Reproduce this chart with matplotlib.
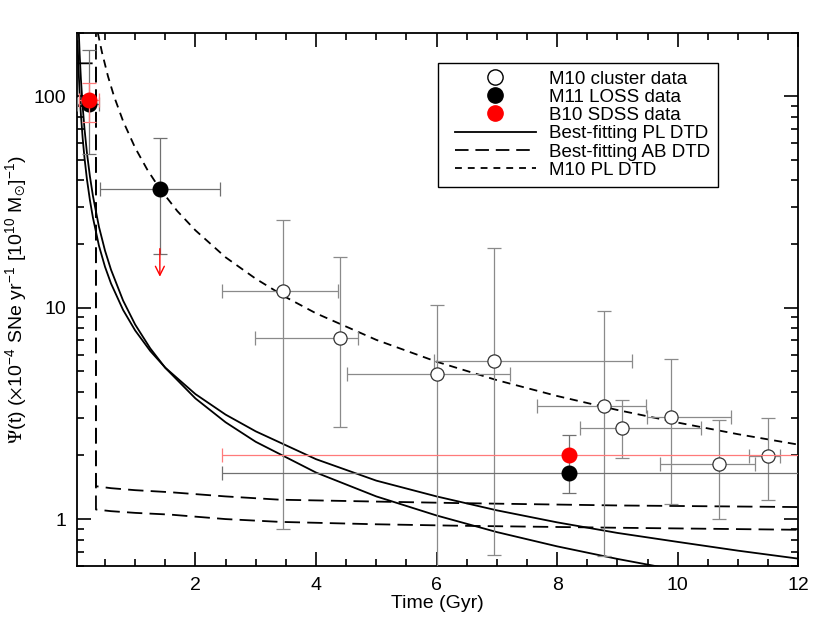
import matplotlib
matplotlib.use('Agg')
import matplotlib.pyplot as plt
from matplotlib.lines import Line2D
from matplotlib.patches import Rectangle
from matplotlib.ticker import MultipleLocator, FixedLocator, NullFormatter, LogLocator

plt.rcParams['font.family'] = ['Liberation Sans', 'DejaVu Sans']
plt.rcParams['mathtext.fontset'] = 'stix'

# --- data ---
# M10 cluster data (open circles)
clu_t = [3.45, 4.39, 6.01, 6.96, 8.78, 9.08, 9.89, 10.69, 11.49]
clu_rate = [12.0, 7.15, 4.86, 5.6, 3.43, 2.71, 3.04, 1.82, 1.99]
clu_t_lo = [2.44, 2.99, 4.52, 5.95, 7.67, 8.38, 9.49, 9.70, 11.19]
clu_t_hi = [4.36, 4.69, 7.21, 9.24, 9.47, 10.38, 10.88, 11.28, 11.69]
clu_rate_lo = [0.90, 2.73, 0.30, 0.68, 0.67, 1.95, 1.18, 1.00, 1.23]
clu_rate_hi = [26.1, 17.3, 10.3, 19.2, 9.68, 3.67, 5.69, 2.94, 3.02]

# M11 LOSS data (black)
loss_t = [0.23, 1.41, 8.2]
loss_rate = [91.6, 36.5, 1.65]
loss_t_lo = [0.04, 0.42, 2.44]
loss_t_hi = [0.40, 2.40, 13.9]
loss_rate_lo = [53.3, 17.97, 1.33]
loss_rate_hi = [165.0, 63.4, 2.49]

# B10 SDSS data (red)
sdss_t = [0.23, 8.2]
sdss_rate = [95.7, 2.0]
sdss_t_lo = [0.07, 2.44]
sdss_t_hi = [0.40, 13.9]
sdss_rate_lo = [75.6, 2.0]
sdss_rate_hi = [116.0, 2.0]
sdss_lim_t = 1.41
sdss_lim_top = 19.0
sdss_lim_tip = 14.0

# Best-fitting PL DTD (two solid curves)
pl1_t = [0.045, 0.06, 0.08, 0.1, 0.13, 0.16, 0.2, 0.25, 0.3, 0.4, 0.5, 0.6, 0.8,
         1.0, 1.25, 1.5, 2.0, 2.5, 3.0, 4.0, 5.0, 6.0, 7.0, 8.0, 9.0, 10.0, 11.0, 12.0]
pl1_rate = [182, 137, 102, 82, 63, 51, 40.5, 32.2, 26.6, 19.6, 15.6, 13.0, 9.75,
            7.8, 6.24, 5.2, 3.9, 3.12, 2.6, 1.92, 1.52, 1.28, 1.10, 0.965, 0.86, 0.78, 0.709, 0.65]
pl2_t = [0.06, 0.08, 0.1, 0.13, 0.16, 0.2, 0.25, 0.3, 0.4, 0.5, 0.6, 0.8,
         1.0, 1.25, 1.5, 2.0, 2.5, 3.0, 4.0, 5.0, 6.0, 7.0, 8.0, 9.0, 10.0]
pl2_rate = [219, 157, 121, 89, 70, 54, 41.7, 33.7, 24.1, 18.6, 15.1, 10.8,
            8.32, 6.42, 5.19, 3.72, 2.87, 2.32, 1.66, 1.28, 1.04, 0.868, 0.743, 0.648, 0.573]

# Best-fitting AB DTD (two long-dashed curves)
ab1_t = [0.04, 0.35, 0.35, 0.6, 1.0, 1.58, 2.5, 3.4, 5.0, 6.38, 9.0, 12.0]
ab1_rate = [143, 143, 1.43, 1.40, 1.37, 1.34, 1.28, 1.235, 1.21, 1.19, 1.16, 1.14]
ab2_t = [0.04, 0.35, 0.35, 0.6, 1.0, 1.58, 2.5, 3.4, 5.0, 6.38, 9.0, 12.0]
ab2_rate = [400, 400, 1.11, 1.09, 1.07, 1.05, 1.00, 0.97, 0.945, 0.93, 0.91, 0.89]

# M10 PL DTD (short dashes)
m10_t = [0.38, 0.45, 0.55, 0.65, 0.8, 1.0, 1.2, 1.4, 1.7, 2.0, 2.5, 3.0, 3.5,
         4.0, 5.0, 6.0, 7.0, 8.0, 9.0, 10.0, 11.0, 12.0]
m10_rate = [200, 161, 124, 99.8, 76.2, 57, 45.0, 36.8, 28.6, 23.2, 17.3, 13.7, 11.2,
            9.40, 7.04, 5.55, 4.54, 3.82, 3.28, 2.86, 2.52, 2.25]


def errs(c, lo, hi):
    return [[a - b for a, b in zip(c, lo)], [b - a for a, b in zip(c, hi)]]


fig = plt.figure(figsize=(8.3, 6.23), dpi=100)
ax = fig.add_axes([0.0931, 0.0915, 0.8687, 0.8563])

lw = 1.3
long_dash = (8.5, 4.0)
short_dash = (4.5, 3.2)

ax.plot(pl1_t, pl1_rate, color='black', lw=lw, zorder=2)
ax.plot(pl2_t, pl2_rate, color='black', lw=lw, zorder=2)
ax.plot(ab1_t, ab1_rate, color='black', lw=lw, dashes=long_dash, zorder=2)
ax.plot(ab2_t, ab2_rate, color='black', lw=lw, dashes=long_dash, zorder=2)
ax.plot(m10_t, m10_rate, color='black', lw=lw, dashes=short_dash, zorder=2)

gray = '#8a8a8a'
pink = '#ff7a7a'
ekw = dict(ls='none', capsize=5, elinewidth=0.9, capthick=0.9)

ax.errorbar(clu_t, clu_rate, xerr=errs(clu_t, clu_t_lo, clu_t_hi),
            yerr=errs(clu_rate, clu_rate_lo, clu_rate_hi),
            ecolor=gray, marker='o', ms=9.5, mfc='white', mec='#333333', mew=0.9,
            zorder=3, **ekw)
ax.errorbar(loss_t, loss_rate, xerr=errs(loss_t, loss_t_lo, loss_t_hi),
            yerr=errs(loss_rate, loss_rate_lo, loss_rate_hi),
            ecolor='#707070', marker='o', ms=10.5, mfc='black', mec='black',
            zorder=4, **ekw)
ax.errorbar(sdss_t, sdss_rate, xerr=errs(sdss_t, sdss_t_lo, sdss_t_hi),
            yerr=errs(sdss_rate, sdss_rate_lo, sdss_rate_hi),
            ecolor=pink, marker='o', ms=10.5, mfc='red', mec='red',
            zorder=5, **ekw)
ax.annotate('', xy=(sdss_lim_t, sdss_lim_tip), xytext=(sdss_lim_t, sdss_lim_top),
            arrowprops=dict(arrowstyle='->', color='red', lw=1.0,
                            mutation_scale=16, shrinkA=0, shrinkB=0), zorder=5)

ax.set_yscale('log')
ax.set_xlim(0.04, 12)
ax.set_ylim(0.6, 200)

ax.xaxis.set_major_locator(FixedLocator([2, 4, 6, 8, 10, 12]))
ax.xaxis.set_minor_locator(MultipleLocator(0.5))
ax.yaxis.set_major_locator(FixedLocator([1, 10, 100]))
ax.yaxis.set_minor_locator(LogLocator(base=10, subs=range(2, 10)))
ax.yaxis.set_minor_formatter(NullFormatter())
ax.set_yticklabels(['1', '10', '100'])

ax.tick_params(which='both', direction='in', top=True, right=True,
               labelsize=14, width=1.2, colors='black')
ax.tick_params(which='major', length=10, pad=8)
ax.tick_params(which='minor', length=5)
for s in ax.spines.values():
    s.set_linewidth(1.3)

ax.set_xlabel('Time (Gyr)', fontsize=14, labelpad=1)
ax.set_ylabel(r'$\Psi$(t) ($\times$10$^{\mathregular{-4}}$ SNe yr$^{\mathregular{-1}}$ '
              r'[10$^{\mathregular{10}}$ M$_{\odot}$]$^{\mathregular{-1}}$)',
              fontsize=14, labelpad=3)

handles = [
    Line2D([], [], ls='none', marker='o', ms=11, mfc='white', mec='black', mew=1.0),
    Line2D([], [], ls='none', marker='o', ms=11, mfc='black', mec='black'),
    Line2D([], [], ls='none', marker='o', ms=11, mfc='red', mec='red'),
    Line2D([], [], color='black', lw=lw),
    Line2D([], [], color='black', lw=lw, dashes=(7.5, 3.8)),
    Line2D([], [], color='black', lw=lw, dashes=(3.8, 3.3)),
]
labels = ['M10 cluster data', 'M11 LOSS data', 'B10 SDSS data',
          'Best-fitting PL DTD', 'Best-fitting AB DTD', 'M10 PL DTD']
ax.legend(handles, labels, loc='upper left', bbox_to_anchor=(0.5239, 0.929),
          borderaxespad=0, borderpad=0, fontsize=13.5, frameon=False,
          handlelength=4.3, handletextpad=0.7, labelspacing=0.06)
ax.add_patch(Rectangle((0.5007, 0.711), 0.3884, 0.2313, transform=ax.transAxes,
                       fill=False, edgecolor='black', lw=1.0, zorder=6))

fig.savefig('out.png', dpi=100)
